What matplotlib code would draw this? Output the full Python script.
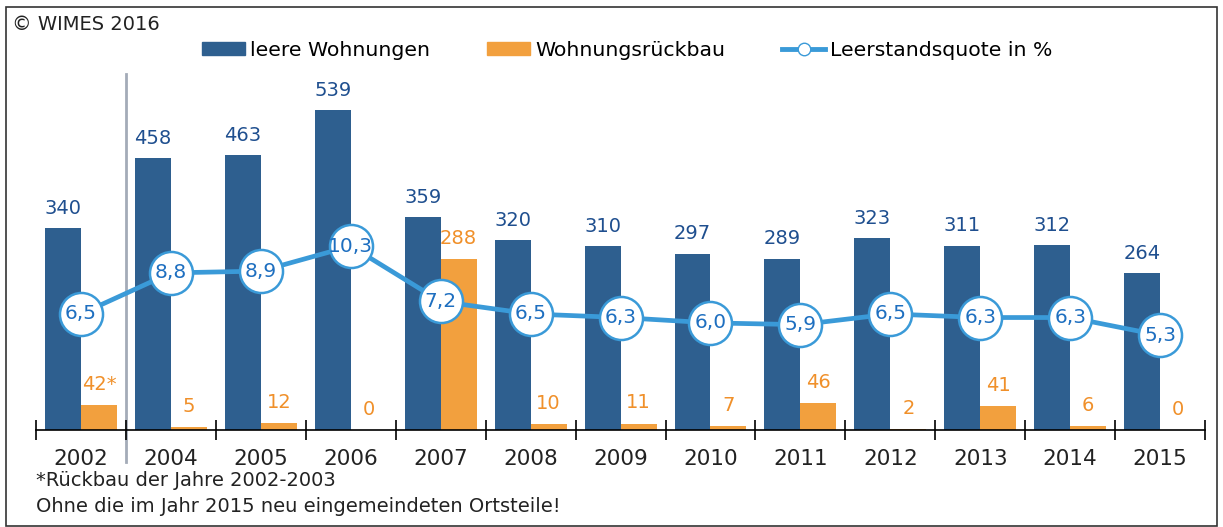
import matplotlib.pyplot as plt
import numpy as np
from matplotlib.lines import Line2D
from matplotlib.patches import Patch, Rectangle

years = ["2002", "2004", "2005", "2006", "2007", "2008", "2009",
         "2010", "2011", "2012", "2013", "2014", "2015"]
leer = [340, 458, 463, 539, 359, 320, 310, 297, 289, 323, 311, 312, 264]
rueckbau = [42, 5, 12, 0, 288, 10, 11, 7, 46, 2, 41, 6, 0]
rueckbau_txt = ["42*", "5", "12", "0", "288", "10", "11", "7", "46", "2", "41", "6", "0"]
quote = [6.5, 8.8, 8.9, 10.3, 7.2, 6.5, 6.3, 6.0, 5.9, 6.5, 6.3, 6.3, 5.3]

c_blue = "#2e5f8f"
c_blue_txt = "#1f4f8f"
c_orange = "#f2a03e"
c_orange_txt = "#f0902a"
c_line = "#3a9ad8"

plt.rcParams["font.family"] = "DejaVu Sans"

fig = plt.figure(figsize=(12.23, 5.27), dpi=100)
ax = fig.add_axes([0.0294, 0.184, 0.956, 0.6755])
x = np.arange(len(years))
w = 0.4

ax.bar(x - w / 2, leer, w, color=c_blue, zorder=2)
ax.bar(x + w / 2, rueckbau, w, color=c_orange, zorder=2)
for xi, v in zip(x, leer):
    ax.annotate(str(v), (xi - w / 2, v), xytext=(0, 7.5), textcoords="offset points",
                ha="center", va="bottom", fontsize=14, color=c_blue_txt)
for xi, v, t in zip(x, rueckbau, rueckbau_txt):
    ax.annotate(t, (xi + w / 2, v), xytext=(0, 8), textcoords="offset points",
                ha="center", va="bottom", fontsize=14, color=c_orange_txt)

ax.set_xlim(-0.5, len(years) - 0.5)
ax.set_ylim(0, 600)
for s in ["top", "right", "left"]:
    ax.spines[s].set_visible(False)
ax.spines["bottom"].set_linewidth(1.2)
ax.set_yticks([])
ax.set_xticks(np.arange(-0.5, len(years), 1.0))
ax.set_xticklabels([])
ax.set_xticks(x, minor=True)
ax.set_xticklabels(years, minor=True, fontsize=15.5, color="#222222")
ax.tick_params(axis="x", which="major", direction="inout", length=14, width=1.2)
ax.tick_params(axis="x", which="minor", length=0, pad=14)
ax.axvline(0.5, ymin=-0.09, ymax=1.0, color="#a4abb8", lw=2, clip_on=False, zorder=1)

ax2 = ax.twinx()
ax2.set_ylim(0, 600 / 30.1)
ax2.axis("off")
ax2.plot(x, quote, color=c_line, lw=3.4, marker="o", markersize=31,
         markerfacecolor="white", markeredgecolor=c_line, markeredgewidth=1.8)
for xi, v in zip(x, quote):
    ax2.text(xi, v, f"{v:.1f}".replace(".", ","), ha="center", va="center",
             fontsize=14.5, color="#1e6fc0")

handles = [
    Patch(color=c_blue),
    Patch(color=c_orange),
    Line2D([], [], color=c_line, lw=3.5, marker="o", markersize=9,
           markerfacecolor="white", markeredgecolor=c_line),
]
fig.legend(handles, ["leere Wohnungen", "Wohnungsrückbau", "Leerstandsquote in %"],
           loc="center", bbox_to_anchor=(0.513, 0.905), ncol=3, frameon=False,
           fontsize=14.7, handlelength=2.1, handleheight=0.6, handletextpad=0.25,
           columnspacing=2.8)

fig.text(0.01, 0.954, "© WIMES 2016", fontsize=14, color="#222222", va="center")
fig.text(0.0294, 0.089, "*Rückbau der Jahre 2002-2003", fontsize=14,
         color="#222222", va="center")
fig.text(0.0294, 0.039, "Ohne die im Jahr 2015 neu eingemeindeten Ortsteile!",
         fontsize=14, color="#222222", va="center")

fig.patches.append(Rectangle((0.005, 0.002), 0.99, 0.984, transform=fig.transFigure,
                             fill=False, edgecolor="#333333", lw=1.2))

fig.savefig("out.png", dpi=100)
